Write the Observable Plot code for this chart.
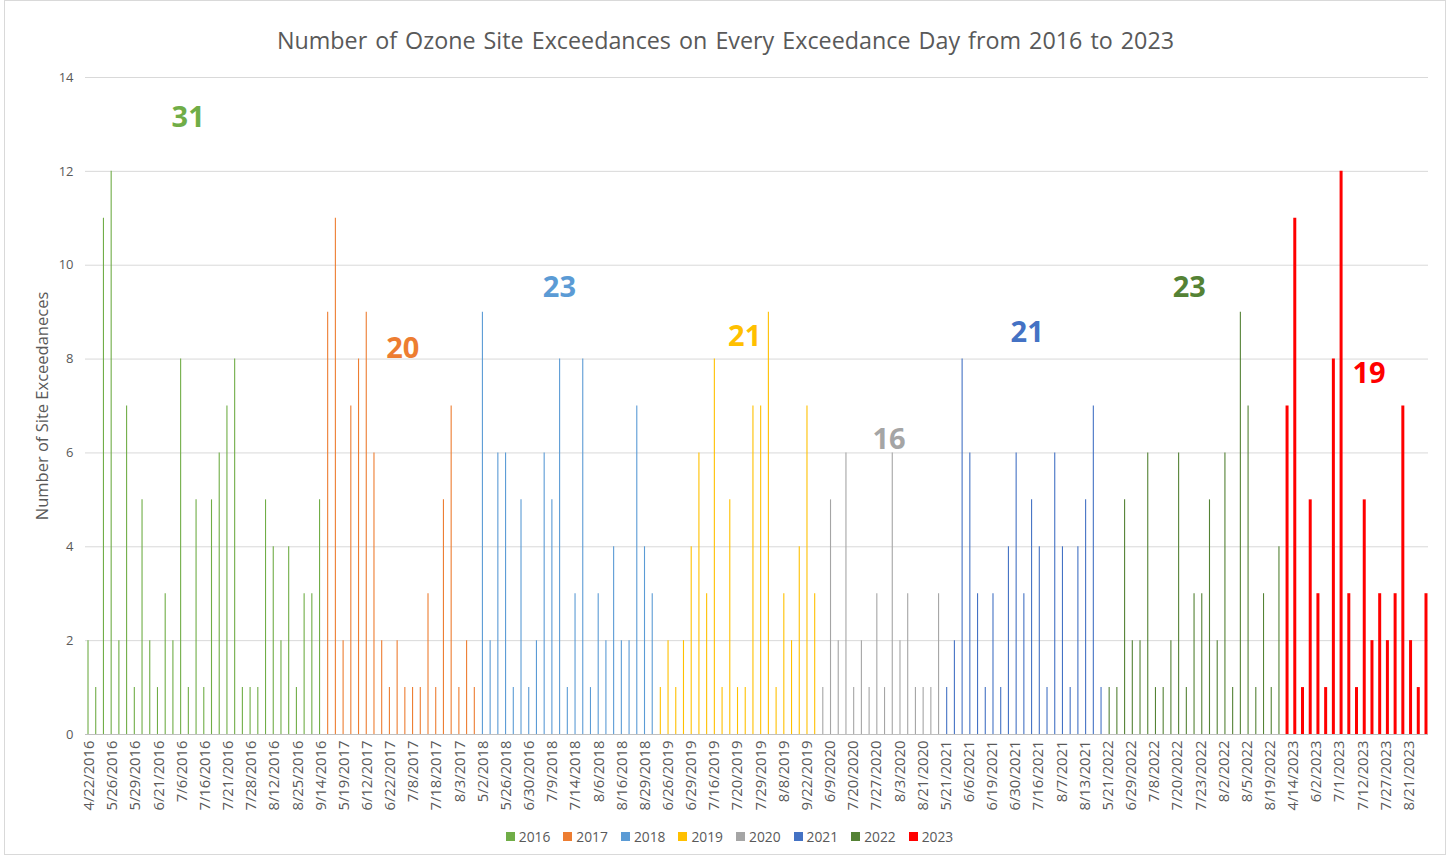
<!DOCTYPE html>
<html><head><meta charset="utf-8">
<script src="https://cdn.jsdelivr.net/npm/d3@7"></script>
<script src="https://cdn.jsdelivr.net/npm/@observablehq/plot@0.6"></script>
<style>
body{margin:0;background:#fff;font-family:"Open Sans",sans-serif;}
#wrap{position:relative;width:1451px;height:857px;overflow:hidden;background:#fff;}
#frame{position:absolute;left:4px;top:0;width:1442px;height:855px;border:1px solid #d9d9d9;box-sizing:border-box;}
#title{position:absolute;top:24px;left:0;width:1451px;text-align:center;font-size:23.3px;color:#595959;word-spacing:2px;}
#chart{position:absolute;top:60px;left:0;}
#legend{position:absolute;top:827px;left:4px;width:1451px;display:flex;justify-content:center;gap:13px;font-size:13.8px;color:#595959;}
#legend span.item{display:flex;align-items:center;}
#legend .sw{display:inline-block;width:9px;height:9px;margin-right:4px;}
</style></head><body>
<div id="wrap">
  <div id="frame"></div>
  <div id="title">Number of Ozone Site Exceedances on Every Exceedance Day from 2016 to 2023</div>
  <div id="chart"></div>
  <div id="legend"></div>
</div>
<script>
const years = [2016, 2017, 2018, 2019, 2020, 2021, 2022, 2023];
const yearColors = ["#70ad47", "#ed7d31", "#5b9bd5", "#ffc000", "#a5a5a5", "#4472c4", "#548235", "#ff0000"];

// Site exceedances per exceedance day, one array per year (in chart order)
const v2016 = [2,1,11,12,2,7,1,5,2,1,3,2,8,1,5,1,5,6,7,8,1,1,1,5,4,2,4,1,3,3,5];
const v2017 = [9,11,2,7,8,9,6,2,1,2,1,1,1,3,1,5,7,1,2,1];
const v2018 = [9,2,6,6,1,5,1,2,6,5,8,1,3,8,1,3,2,4,2,2,7,4,3];
const v2019 = [1,2,1,2,4,6,3,8,1,5,1,1,7,7,9,1,3,2,4,7,3];
const v2020 = [1,5,2,6,1,2,1,3,1,6,2,3,1,1,1,3];
const v2021 = [1,2,8,6,3,1,3,1,4,6,3,5,4,1,6,4,1,4,5,7,1];
const v2022 = [1,1,5,2,2,6,1,1,2,6,1,3,3,5,2,6,1,9,7,1,3,1,4];
const v2023 = [7,11,1,5,3,1,8,12,3,1,5,2,3,2,3,7,2,1,3];

// Category labels shown on the axis (every third exceedance day)
const tickLabels = ["4/22/2016","5/26/2016","5/29/2016","6/21/2016","7/6/2016","7/16/2016","7/21/2016","7/28/2016","8/12/2016","8/25/2016","9/14/2016",
  "5/19/2017","6/12/2017","6/22/2017","7/8/2017","7/18/2017","8/3/2017",
  "5/2/2018","5/26/2018","6/30/2016","7/9/2018","7/14/2018","8/6/2018","8/16/2018","8/29/2018",
  "6/26/2019","6/29/2019","7/16/2019","7/20/2019","7/29/2019","8/8/2019","9/22/2019",
  "6/9/2020","7/20/2020","7/27/2020","8/3/2020","8/21/2020",
  "5/21/2021","6/6/2021","6/19/2021","6/30/2021","7/16/2021","8/7/2021","8/13/2021",
  "5/21/2022","6/29/2022","7/8/2022","7/20/2022","7/23/2022","8/2/2022","8/5/2022","8/19/2022",
  "4/14/2023","6/2/2023","7/1/2023","7/12/2023","7/27/2023","8/21/2023"];
const labelEvery = 3;

// Annotation: number of exceedance days per year, and where the label sits (category index, value units)
const dayCounts = [31, 20, 23, 21, 16, 21, 23, 19];
const countLabelAtIndex = [13.3, 41.1, 61.4, 85.4, 104.1, 122.0, 143.0, 166.3];
const countLabelAtValue = [13.15, 8.22, 9.52, 8.48, 6.29, 8.57, 9.52, 7.69];

const yTicks = [0, 2, 4, 6, 8, 10, 12, 14];

const seriesValues = [v2016, v2017, v2018, v2019, v2020, v2021, v2022, v2023];
const rows = [];
let idx = 0;
seriesValues.forEach((vals, k) => {
  vals.forEach(v => {
    rows.push({i: idx, year: years[k], value: v, pos: idx + 0.5 + (k - 3.5) * 0.05});
    idx++;
  });
});
const nCats = rows.length;

const tickPos = tickLabels.map((_, k) => k * labelEvery + 0.5);
const tickMap = new Map(tickPos.map((p, k) => [p, tickLabels[k]]));

const annotations = dayCounts.map((n, k) => ({n, year: years[k], x: countLabelAtIndex[k], y: countLabelAtValue[k]}));

const chart = Plot.plot({
  width: 1451,
  height: 764,
  marginLeft: 85,
  marginRight: 23,
  marginTop: 17,
  marginBottom: 90,
  x: {domain: [0, nCats], axis: null},
  y: {domain: [0, 14], axis: null},
  color: {domain: years, range: yearColors},
  style: {fontFamily: "Open Sans", background: "transparent", overflow: "visible"},
  marks: [
    Plot.gridY(yTicks, {stroke: "#d9d9d9", strokeOpacity: 1, strokeWidth: 1}),
    Plot.axisY(yTicks, {tickSize: 0, tickPadding: 12, fontSize: 13, color: "#595959", label: null}),
    Plot.text(["Number of Site Exceedaneces"], {text: d => d, frameAnchor: "left", textAnchor: "middle", rotate: -90, dx: -43, fontSize: 16.5, fill: "#595959"}),
    Plot.ruleY([0], {stroke: "#bfbfbf"}),
    Plot.ruleX(rows, {filter: d => d.year !== 2023, x: "pos", y1: 0, y2: "value", stroke: "year", strokeWidth: 1.1}),
    Plot.ruleX(rows, {filter: d => d.year === 2023, x: "pos", y1: 0, y2: "value", stroke: "year", strokeWidth: 3}),
    Plot.axisX(tickPos, {tickSize: 0, tickPadding: 6, tickRotate: -90, tickFormat: d => tickMap.get(d), fontSize: 14.8, color: "#595959", label: null}),
    Plot.text(annotations, {x: "x", y: "y", text: d => String(d.n), fill: "year", fontWeight: "bold", fontSize: 29})
  ]
});
document.getElementById("chart").appendChild(chart);

const legend = document.getElementById("legend");
years.forEach((y, k) => {
  const it = document.createElement("span");
  it.className = "item";
  it.innerHTML = `<span class="sw" style="background:${yearColors[k]}"></span>${y}`;
  legend.appendChild(it);
});
</script>
</body></html>
